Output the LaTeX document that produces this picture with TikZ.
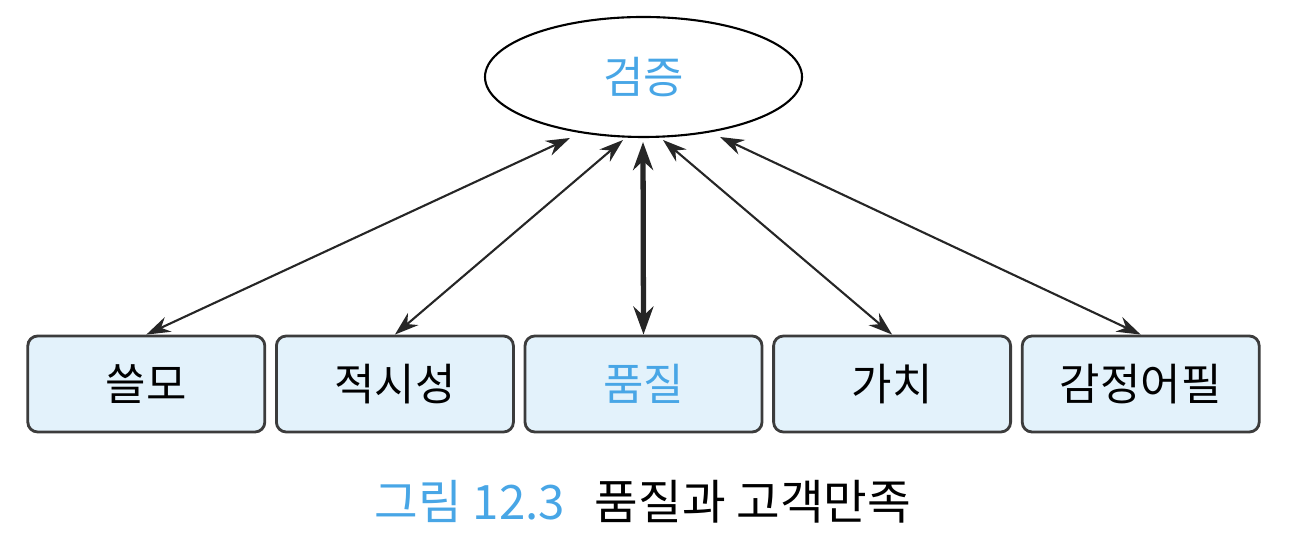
\documentclass[tikz,border=0pt]{standalone}
\usepackage{fontspec}
\newfontfamily\kr{Noto Sans CJK KR}
\usetikzlibrary{arrows.meta,shapes.geometric}
\definecolor{kblue}{RGB}{72,166,230}
\definecolor{boxfill}{RGB}{227,242,251}
\definecolor{boxline}{RGB}{60,60,60}
\tikzset{
  goal/.style = {ellipse,draw,line width=0.6pt,minimum width=3.17cm,
    minimum height=1.2cm,inner sep=0pt,text=kblue},
  factor/.style = {rectangle,draw=boxline,line width=0.8pt,fill=boxfill,
    rounded corners=2.8pt,minimum width=2.37cm,minimum height=0.96cm,inner sep=0pt},
  link/.style = {{Stealth[length=0.24cm,width=0.16cm]}-{Stealth[length=0.24cm,width=0.16cm]},
    line width=0.6pt,draw=black!85},
  mainlink/.style = {{Stealth[length=0.28cm,width=0.2cm]}-{Stealth[length=0.28cm,width=0.2cm]},
    line width=1.5pt,draw=black!85}
}

\begin{document}
\begin{tikzpicture}[font=\kr\fontsize{12.5}{15}\selectfont]
  \useasboundingbox (0,0) rectangle (12.94,-5.38);
  \node[goal] (top) at (6.435,-0.77) {검증};
  \foreach \i/\txt/\col in {1/쓸모/black,2/적시성/black,3/품질/kblue,4/가치/black,5/감정어필/black} {%
    \pgfmathsetmacro{\X}{6.435+(\i-3)*2.486}
    \node[factor,text=\col] (b\i) at (\X,-3.84) {\txt};
  }
  \foreach \i/\tx/\ty in {1/5.70/-1.38,2/6.23/-1.40,3/6.43/-1.42,4/6.63/-1.40,5/7.20/-1.37} {%
    \coordinate (t\i) at (\tx,\ty);
  }
  \draw[link] (b1.north) -- (t1);
  \draw[link] (b2.north) -- (t2);
  \draw[mainlink] (b3.north) -- (t3);
  \draw[link] (b4.north) -- (t4);
  \draw[link] (b5.north) -- (t5);
  \node (caption) at (6.43,-5.02) {\fontsize{13.5}{16}\selectfont{\color{kblue}그림 12.3}\hspace{0.3cm}품질과 고객만족};
\end{tikzpicture}
\end{document}
